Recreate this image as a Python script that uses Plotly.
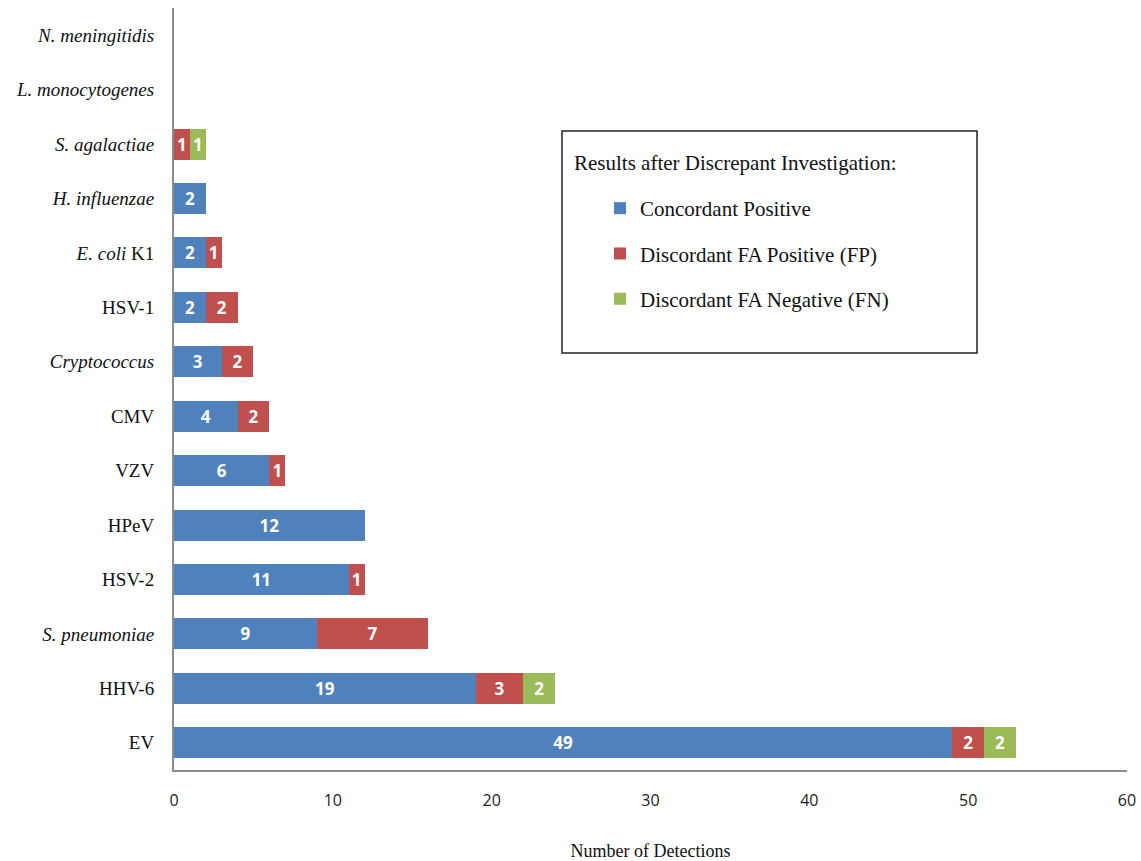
import plotly.graph_objects as go

categories = ["EV", "HHV-6", "<i>S. pneumoniae</i>", "HSV-2", "HPeV", "VZV", "CMV",
              "<i>Cryptococcus</i>", "HSV-1", "<i>E. coli</i> K1", "<i>H. influenzae</i>",
              "<i>S. agalactiae</i>", "<i>L. monocytogenes</i>", "<i>N. meningitidis</i>"]
concordant = [49, 19, 9, 11, 12, 6, 4, 3, 2, 2, 2, 0, 0, 0]
false_pos = [2, 3, 7, 1, 0, 1, 2, 2, 2, 1, 0, 1, 0, 0]
false_neg = [2, 2, 0, 0, 0, 0, 0, 0, 0, 0, 0, 1, 0, 0]
series_names = ["Concordant Positive", "Discordant FA Positive (FP)", "Discordant FA Negative (FN)"]
colors = ["#4F81BD", "#C0504D", "#9BBB59"]
x_ticks = [0, 10, 20, 30, 40, 50, 60]

fig = go.Figure()
for i, (name, vals, col) in enumerate(zip(series_names, [concordant, false_pos, false_neg], colors)):
    fig.add_trace(go.Bar(
        y=categories, x=vals, orientation="h", name=name,
        marker=dict(color=col, line=dict(width=0)),
        text=[str(v) if v else "" for v in vals],
        textposition="inside", insidetextanchor="middle", constraintext="none",
        textfont=dict(family="Open Sans", size=17, color="white", weight="bold"),
        legendgroup=f"g{i}",
        hoverinfo="skip",
    ))

# plot area spans x 174..1127, y 8..770 on screen
fig.update_layout(
    barmode="stack",
    bargap=0.43,
    width=1141, height=861,
    margin=dict(l=174, r=14, t=8, b=91),
    paper_bgcolor="white", plot_bgcolor="white",
    showlegend=True,
    legend=dict(
        x=(600 - 174) / 953, y=1 - (188 - 8) / 762,
        xanchor="left", yanchor="top",
        font=dict(family="Liberation Serif", size=21, color="#111111"),
        bgcolor="rgba(0,0,0,0)", borderwidth=0,
        traceorder="grouped", tracegroupgap=15,
    ),
    xaxis=dict(
        range=[0, 60], tickvals=x_ticks, showgrid=False, zeroline=False,
        showline=True, linecolor="#8c8c8c", linewidth=2, automargin=False,
        ticks="", ticklabelstandoff=15,
        tickfont=dict(family="Open Sans", size=16, color="#222222"),
        title=dict(text="Number of Detections", standoff=37,
                   font=dict(family="Liberation Serif", size=18, color="#111111")),
    ),
    yaxis=dict(
        showgrid=False, zeroline=False, showline=True, linecolor="#8c8c8c", linewidth=2,
        automargin=False, ticks="", ticklabelstandoff=14,
        tickfont=dict(family="Liberation Serif", size=19, color="#111111"),
    ),
    shapes=[dict(type="rect", xref="paper", yref="paper",
                 x0=(562 - 174) / 953, x1=(977 - 174) / 953,
                 y0=1 - (353 - 8) / 762, y1=1 - (131 - 8) / 762,
                 line=dict(color="#222222", width=1.5), fillcolor="rgba(0,0,0,0)")],
    annotations=[dict(text="Results after Discrepant Investigation:", xref="paper", yref="paper",
                      x=(572 - 174) / 953, y=1 - (163 - 8) / 762, xanchor="left", yanchor="middle",
                      showarrow=False,
                      font=dict(family="Liberation Serif", size=21, color="#111111"))],
)

fig.write_html("out.html", config={"displayModeBar": False},
               post_script="document.body.style.margin='0';document.body.style.overflow='hidden';")
